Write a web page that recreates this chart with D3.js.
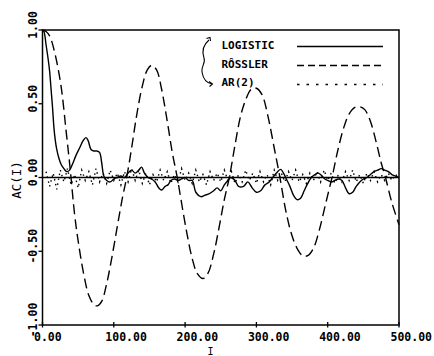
<!DOCTYPE html>
<html><head><meta charset="utf-8">
<script src="https://cdn.jsdelivr.net/npm/d3@7"></script>
<style>body{margin:0;background:#fff}svg{display:block}</style>
</head><body>
<script>
// ---- data ----
const yTicks = [1.0, 0.5, 0.0, -0.5, -1.0];
const yTickLabels = ["1.00", "0.50", "0.00", "-0.50", "-1.00"];
const xTicks = [0, 100, 200, 300, 400, 500];
const xTickLabels = ["0.00", "100.00", "200.00", "300.00", "400.00", "500.00"];
const seriesNames = ["LOGISTIC", "RÔSSLER", "AR(2)"];

const logisticLag = [0,2,5,8,10,12,14,16,18,20,23,26,30,34,38,42,47,52,57,61,64,68,72,76,80,83,86,90,95,100,105,110,115,120,125,130,135,139,143,148,153,158,163,167,172,176,180,185,190,195,200,205,210,215,222,228,234,240,245,250,255,260,264,270,275,282,288,294,300,306,312,318,323,328,334,338,342,347,352,357,362,367,372,377,382,387,392,396,400,405,410,415,420,425,430,435,440,445,450,455,460,465,470,475,480,485,490,495,500];
const logisticAC = [1.0,0.99,0.9,0.8,0.72,0.6,0.48,0.34,0.25,0.19,0.13,0.09,0.06,0.04,0.05,0.09,0.15,0.2,0.25,0.27,0.25,0.19,0.18,0.18,0.17,0.1,0.01,-0.02,-0.03,-0.01,0.0,0.01,0.0,0.03,0.05,0.03,0.05,0.07,0.03,0.0,-0.01,-0.03,-0.07,-0.085,-0.06,-0.05,-0.02,-0.01,-0.02,-0.01,0.0,-0.02,-0.02,-0.1,-0.13,-0.12,-0.11,-0.09,-0.07,-0.09,-0.05,-0.02,0.0,-0.02,-0.06,-0.06,-0.03,-0.07,-0.1,-0.09,-0.05,-0.03,0.0,0.03,0.055,0.03,-0.01,-0.06,-0.12,-0.15,-0.14,-0.09,-0.04,0.0,0.02,0.03,0.01,-0.01,-0.02,-0.03,-0.02,-0.01,-0.02,-0.07,-0.11,-0.1,-0.06,-0.03,-0.01,0.0,0.02,0.04,0.05,0.06,0.05,0.04,0.02,0.01,0.0];

const rosslerLag = [0,5,10,17,26,33,39,45,50,58,65,72,77,83,90,97,105,112,118,125,132,140,147,153,160,167,175,182,189,196,203,210,217,225,232,240,248,255,262,270,278,286,293,300,308,316,325,333,341,349,357,365,372,380,388,397,406,414,422,430,438,445,452,460,468,475,481,490,500];
const rosslerAC = [1.0,0.99,0.96,0.85,0.62,0.32,0.05,-0.25,-0.43,-0.66,-0.8,-0.86,-0.87,-0.84,-0.72,-0.55,-0.33,-0.14,0.0,0.2,0.42,0.62,0.73,0.76,0.73,0.6,0.38,0.17,0.0,-0.2,-0.39,-0.55,-0.65,-0.685,-0.65,-0.52,-0.33,-0.15,0.0,0.22,0.42,0.54,0.6,0.605,0.56,0.42,0.2,0.0,-0.22,-0.38,-0.48,-0.53,-0.53,-0.48,-0.36,-0.18,0.0,0.18,0.33,0.43,0.475,0.48,0.46,0.38,0.24,0.1,0.0,-0.17,-0.32];

const arLag = d3.range(5, 501, 5);
const arAC = [0.04,-0.06,0.03,-0.08,0.05,-0.03,0.06,-0.05,0.02,-0.07,
 0.05,-0.02,0.04,-0.05,0.06,-0.03,0.03,-0.04,0.05,-0.02,
 0.03,-0.05,0.04,-0.03,0.06,-0.02,0.05,-0.04,0.03,-0.05,
 0.02,-0.03,0.05,-0.02,0.04,-0.04,0.02,-0.03,0.06,-0.02,
 0.03,-0.04,0.05,-0.03,0.02,-0.05,0.04,-0.02,0.03,-0.03,
 0.05,-0.02,0.04,-0.04,0.02,-0.03,0.05,-0.02,0.03,-0.04,
 0.04,-0.03,0.02,-0.05,0.05,-0.02,0.03,-0.03,0.04,-0.02,
 0.05,-0.03,0.02,-0.04,0.03,-0.02,0.04,-0.03,0.05,-0.02,
 0.03,-0.04,0.02,-0.03,0.04,-0.02,0.05,-0.03,0.02,-0.04,
 0.03,-0.02,0.04,-0.03,0.02,-0.02,0.03,-0.02,0.02,0.0];

// ---- layout ----
const W = 434, H = 356;
const L = 42.5, R = 399, T = 30, B = 325;
const font = "'DejaVu Sans Mono', monospace";

const x = d3.scaleLinear().domain([0, 500]).range([L, R]);
const y = d3.scaleLinear().domain([-1, 1]).range([B, T]);

const svg = d3.select("body").append("svg").attr("width", W).attr("height", H);

// frame
svg.append("rect").attr("x", L).attr("y", T).attr("width", R - L).attr("height", B - T)
  .attr("fill", "none").attr("stroke", "#000").attr("stroke-width", 1.5);

// zero line
svg.append("line").attr("x1", x(0)).attr("x2", x(500)).attr("y1", y(0)).attr("y2", y(0))
  .attr("stroke", "#000").attr("stroke-width", 1.6);

// y axis ticks
svg.append("g").selectAll("line").data(yTicks).join("line")
  .attr("x1", L - 4).attr("x2", L).attr("y1", d => y(d)).attr("y2", d => y(d))
  .attr("stroke", "#000").attr("stroke-width", 1.3);
svg.append("g").selectAll("text").data(yTicks).join("text")
  .attr("transform", d => `translate(37,${y(d) - 5}) rotate(-90)`)
  .attr("text-anchor", "middle").attr("font-family", font).attr("font-weight", "bold")
  .attr("font-size", 11.5).text((d, i) => yTickLabels[i]);

// x axis ticks
svg.append("g").selectAll("line").data(xTicks).join("line")
  .attr("x1", d => x(d)).attr("x2", d => x(d)).attr("y1", B - 3).attr("y2", B + 2.5)
  .attr("stroke", "#000").attr("stroke-width", 1.3);
svg.append("g").selectAll("text").data(xTicks).join("text")
  .attr("x", d => x(d) - 8.5).attr("y", 341)
  .attr("font-family", font).attr("font-weight", "bold")
  .attr("font-size", 11.5).text((d, i) => xTickLabels[i]);

// axis titles
svg.append("text").attr("x", 210.5).attr("y", 354.5).attr("text-anchor", "middle")
  .attr("font-family", font).attr("font-size", 10).text("I");
svg.append("text").attr("transform", "translate(21,180) rotate(-90)").attr("text-anchor", "middle")
  .attr("font-family", font).attr("font-size", 12.5).text("AC(I)");

// series
const lineCR = d3.line().curve(d3.curveCatmullRom.alpha(0.5));
const lineLin = d3.line();

svg.append("path")
  .attr("d", lineLin(arLag.map((t, i) => [x(t), y(arAC[i])])))
  .attr("fill", "none").attr("stroke", "#000").attr("stroke-width", 1.4)
  .attr("stroke-dasharray", "1.5,3.5");

svg.append("path")
  .attr("d", lineCR(logisticLag.map((t, i) => [x(t), y(logisticAC[i])])))
  .attr("fill", "none").attr("stroke", "#000").attr("stroke-width", 1.4);

svg.append("path")
  .attr("d", lineCR(rosslerLag.map((t, i) => [x(t), y(rosslerAC[i])])))
  .attr("fill", "none").attr("stroke", "#000").attr("stroke-width", 1.4)
  .attr("stroke-dasharray", "10,5");

// legend
const legY = [48.5, 67.5, 86];
const legLineY = [46.5, 65.5, 84.5];
const legDash = [null, "7,4", "2.5,7"];
const leg = svg.append("g");
leg.selectAll("text").data(seriesNames).join("text")
  .attr("x", 221.5).attr("y", (d, i) => legY[i])
  .attr("font-family", font).attr("font-weight", "bold").attr("font-size", 11)
  .text(d => d);
leg.selectAll("line").data(seriesNames).join("line")
  .attr("x1", 297).attr("x2", 383).attr("y1", (d, i) => legLineY[i]).attr("y2", (d, i) => legLineY[i])
  .attr("stroke", "#000").attr("stroke-width", 1.4)
  .attr("stroke-dasharray", (d, i) => legDash[i]);

// curly bracket arrow
svg.append("path")
  .attr("d", "M209,40 C203,45 202,52 204,58 C206,63 201,66 202,72 C203,78 206,83 212,84")
  .attr("fill", "none").attr("stroke", "#000").attr("stroke-width", 1.1);
svg.append("path").attr("d", "M206.5,38.5 L210,37.5 L210.5,41")
  .attr("fill", "none").attr("stroke", "#000").attr("stroke-width", 1.1);
svg.append("path").attr("d", "M209,81.5 L212.5,84 L209.5,86.5")
  .attr("fill", "none").attr("stroke", "#000").attr("stroke-width", 1.1);
</script>
</body></html>
